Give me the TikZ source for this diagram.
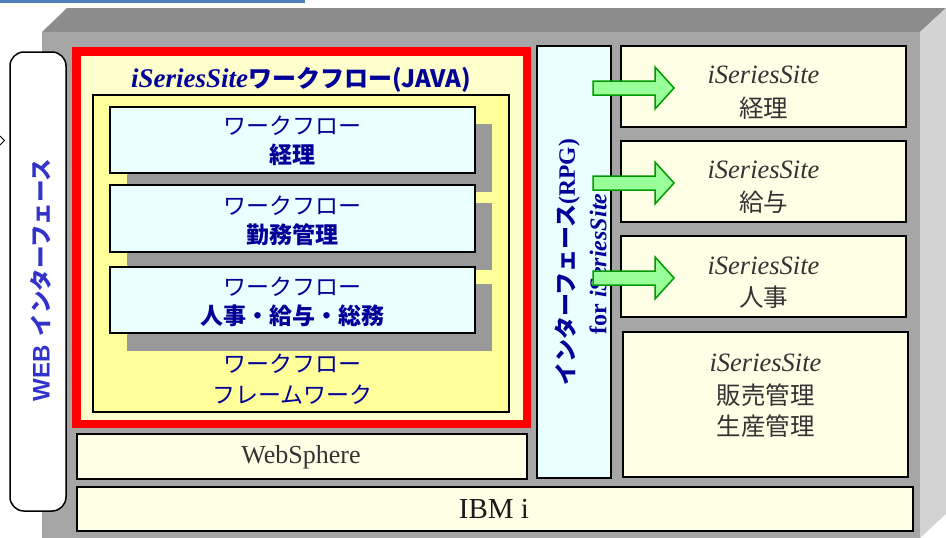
\documentclass[tikz,border=0pt]{standalone}
\usepackage{fontspec}
\setmainfont{Liberation Serif}
\newfontfamily\jp{Noto Sans CJK JP}
\newfontfamily\arialf{Liberation Sans}
\definecolor{navy}{HTML}{000099}
\definecolor{webblue}{HTML}{3333CC}
\definecolor{darktxt}{HTML}{333333}
\definecolor{frontgray}{HTML}{A6A6A6}
\definecolor{topgray}{HTML}{8C8C8C}
\definecolor{sidegray}{HTML}{D3D3D3}
\definecolor{shadowgray}{HTML}{999999}
\definecolor{lightyel}{HTML}{FFFFCC}
\definecolor{fwyel}{HTML}{FFFF99}
\definecolor{cream}{HTML}{FFFFE5}
\definecolor{lightcyan}{HTML}{EAFFFF}
\definecolor{arrowfill}{HTML}{99FF99}
\definecolor{arrowdraw}{HTML}{009900}
\definecolor{topblue}{HTML}{4F81BD}
\tikzset{
  box/.style={draw=black, line width=1.5pt, inner sep=0pt, outer sep=0pt},
  shadowbox/.style={fill=shadowgray, inner sep=0pt, outer sep=0pt, minimum width=365pt},
  wfbox/.style={box, fill=lightcyan, minimum width=365pt},
  rbox/.style={box, fill=cream, minimum width=285pt},
  wftxt/.style={inner sep=0pt, text=navy, font=\jp\fontsize{23}{27}\selectfont},
  wftxtb/.style={wftxt, font=\jp\bfseries\fontsize{23}{27}\selectfont},
  rser/.style={inner sep=0pt, text=darktxt, font=\itshape\fontsize{26.5}{30}\selectfont},
  rjp/.style={inner sep=0pt, text=darktxt, font=\jp\fontsize{24.5}{28}\selectfont},
  garrow/.style={fill=arrowfill, draw=arrowdraw, line width=1.5pt, line join=miter},
}
\begin{document}
\begin{tikzpicture}[x=1pt,y=-1pt]
\useasboundingbox (0,0) rectangle (946,538);
% top blue line
\fill[topblue] (0,0) rectangle (305,2.5);
% 3D gray block
\fill[topgray] (42,32) -- (67,8) -- (946,8) -- (920,32) -- cycle;
\fill[sidegray] (920,32) -- (946,8) -- (946,514) -- (920,538) -- cycle;
\fill[frontgray] (42,32) rectangle (920,538);
% WEB interface
\node[box, fill=white, rounded corners=14pt, minimum width=56pt, minimum height=459pt] (web) at (38,281.5) {};
\node[rotate=90, inner sep=0pt, text=webblue] (webt) at (41,280)
  {{\arialf\bfseries\fontsize{24}{28}\selectfont WEB}\hspace{9pt}{\jp\bfseries\fontsize{22.5}{26}\selectfont インターフェース}};
\coordinate (inA) at (0,136);
\coordinate (inB) at (4.5,140.5);
\coordinate (inC) at (0,145);
\draw[line width=1pt] (inA) -- (inB) -- (inC);
% red workflow container
\node[draw=red, line width=8.5pt, fill=lightyel, inner sep=0pt, minimum width=450.5pt, minimum height=372.5pt] (red) at (301.5,237.5) {};
\node[inner sep=0pt, text=navy] (title) at (301,80)
  {{\bfseries\itshape\fontsize{27}{31}\selectfont iSeriesSite}{\jp\bfseries\fontsize{24}{28}\selectfont ワークフロー(JAVA)}};
\node[box, fill=fwyel, minimum width=416pt, minimum height=317pt] (fw) at (301,253.5) {};
% shadows
\node[shadowbox, minimum height=68pt] (s1) at (309.5,158) {};
\node[shadowbox, minimum height=67pt] (s2) at (309.5,236.5) {};
\node[shadowbox, minimum height=67pt] (s3) at (309.5,317.5) {};
% workflow boxes
\node[wfbox, minimum height=66pt] (w1) at (292.5,140) {};
\node[wfbox, minimum height=67pt] (w2) at (292.5,218.5) {};
\node[wfbox, minimum height=66pt] (w3) at (292.5,300) {};
\node[wftxt] (w1a) at (292.5,126) {ワークフロー};
\node[wftxtb] (w1b) at (292.5,155) {経理};
\node[wftxt] (w2a) at (292.5,206) {ワークフロー};
\node[wftxtb] (w2b) at (292.5,235) {勤務管理};
\node[wftxt] (w3a) at (292.5,287) {ワークフロー};
\node[wftxtb] (w3b) at (292.5,316) {人事・給与・総務};
\node[wftxt] (fwa) at (292.5,364) {ワークフロー};
\node[wftxt] (fwb) at (292.5,395) {フレームワーク};
% WebSphere and IBM i
\node[box, fill=cream, minimum width=450pt, minimum height=45pt] (ws) at (302,456.5) {};
\node[inner sep=0pt, text=darktxt, font=\fontsize{26}{30}\selectfont] (wst) at (301,457) {WebSphere};
\node[box, fill=cream, minimum width=836pt, minimum height=44pt] (ibm) at (495,509) {};
\node[inner sep=0pt, text=black!90, font=\fontsize{29}{33}\selectfont] (ibmt) at (494,509) {IBM i};
% interface column
\node[box, fill=lightcyan, minimum width=74pt, minimum height=432pt] (if) at (574,262) {};
\node[rotate=90, inner sep=0pt, text=navy] (if1) at (567.5,262.5)
  {{\jp\bfseries\fontsize{23}{27}\selectfont インターフェース}{\bfseries\fontsize{23.5}{27}\selectfont (RPG)}};
\node[rotate=90, inner sep=0pt, text=navy, font=\bfseries\fontsize{24}{28}\selectfont] (if2) at (598,264)
  {for \textit{iSeriesSite}};
% right boxes
\node[rbox, minimum height=81pt] (rA) at (763.5,86.5) {};
\node[rbox, minimum height=81pt] (rB) at (763.5,181.5) {};
\node[rbox, minimum height=81pt] (rC) at (763.5,276.5) {};
\node[rbox, minimum height=145pt] (rD) at (765.5,404.5) {};
\node[rser] (rA1) at (763.5,75) {iSeriesSite};
\node[rjp] (rA2) at (763.5,108) {経理};
\node[rser] (rB1) at (763.5,170) {iSeriesSite};
\node[rjp] (rB2) at (763.5,202) {給与};
\node[rser] (rC1) at (763.5,266) {iSeriesSite};
\node[rjp] (rC2) at (763.5,297) {人事};
\node[rser] (rD1) at (765.5,363) {iSeriesSite};
\node[rjp] (rD2) at (765.5,395) {販売管理};
\node[rjp] (rD3) at (765.5,426) {生産管理};
% green block arrows
\foreach \c in {88,183,278}{
  \draw[garrow] (593,\c-7) -- (655,\c-7) -- (655,\c-21) -- (674,\c) -- (655,\c+21) -- (655,\c+7) -- (593,\c+7) -- cycle;
}
\end{tikzpicture}
\end{document}
